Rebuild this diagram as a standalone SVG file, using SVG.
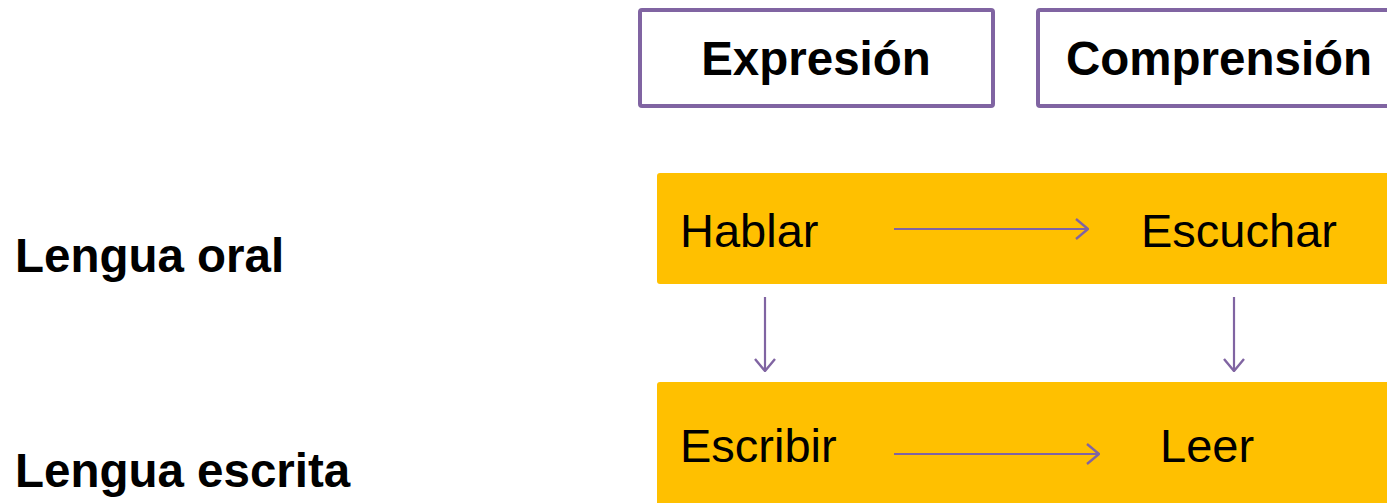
<svg xmlns="http://www.w3.org/2000/svg" width="1387" height="503" viewBox="0 0 1387 503">
<style>
.hdr{fill:#fff;stroke:#8064A2;stroke-width:4}
.band{fill:#FFC000}
.b{font-family:"Liberation Sans",Arial,sans-serif;font-weight:bold;font-size:47.5px;fill:#000}
.t{font-family:"Liberation Sans",Arial,sans-serif;font-size:47px;fill:#000}
.c{stroke:#8064A2;stroke-width:2.2;fill:none}
</style>
<defs>
<marker id="ah" viewBox="0 0 14 22" refX="13" refY="11" markerWidth="14" markerHeight="22" markerUnits="userSpaceOnUse" orient="auto">
<path d="M1,1 L13,11 L1,21" fill="none" stroke="#8064A2" stroke-width="2.4"/>
</marker>
</defs>
<rect width="1387" height="503" fill="#fff"/>
<g id="expresion"><rect class="hdr" x="640" y="10" width="353" height="96" rx="2"/><text class="b" x="816" y="75" text-anchor="middle">Expresión</text></g>
<g id="comprension"><rect class="hdr" x="1038" y="10" width="360" height="96" rx="2"/><text class="b" x="1066" y="75">Comprensión</text></g>
<g id="lengua-oral"><text class="b" x="15" y="272">Lengua oral</text></g>
<g id="lengua-escrita"><text class="b" x="15" y="487">Lengua escrita</text></g>
<g id="band-oral"><rect class="band" x="657" y="173" width="740" height="111" rx="3"/></g>
<g id="band-escrita"><rect class="band" x="657" y="382" width="740" height="130" rx="3"/></g>
<g id="hablar"><text class="t" x="680" y="247">Hablar</text></g>
<g id="escuchar"><text class="t" x="1141" y="247">Escuchar</text></g>
<g id="escribir"><text class="t" x="680" y="462">Escribir</text></g>
<g id="leer"><text class="t" x="1160" y="462">Leer</text></g>
<g id="connectors">
<line class="c" x1="894" y1="229" x2="1088" y2="229" marker-end="url(#ah)"/>
<line class="c" x1="894" y1="454" x2="1099" y2="454" marker-end="url(#ah)"/>
<line class="c" x1="765" y1="297" x2="765" y2="371" marker-end="url(#ah)"/>
<line class="c" x1="1234" y1="297" x2="1234" y2="371" marker-end="url(#ah)"/>
</g>
</svg>
